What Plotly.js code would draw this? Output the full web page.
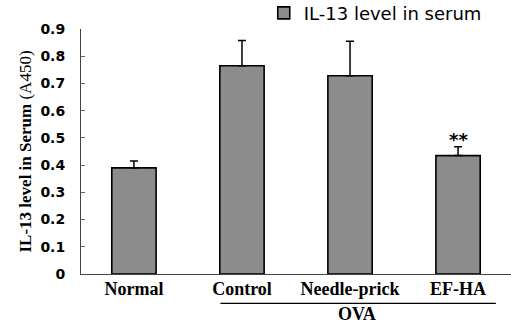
<!DOCTYPE html>
<html>
<head>
<meta charset="utf-8">
<script src="https://cdn.plot.ly/plotly-3.0.1.min.js"></script>
<style>html,body{margin:0;padding:0;background:#fff;}#chart{width:511px;height:327px;}</style>
</head>
<body>
<div id="chart"></div>
<script>
const categories = ["Normal", "Control", "Needle-prick", "EF-HA"];
const il13Values = [0.39, 0.765, 0.728, 0.435];
const il13Errors = [0.025, 0.093, 0.127, 0.032];
const seriesName = "IL-13 level in serum";
const groupLabel = "OVA";
const sigMark = "**";
const sigIndex = 3;

const trace = {
  type: "bar",
  x: categories,
  y: il13Values,
  name: seriesName,
  width: 0.41,
  marker: {
    color: "#8c8c8c",
    line: {color: "#000", width: 1.6}
  },
  error_y: {
    type: "data", symmetric: false,
    array: il13Errors,
    arrayminus: il13Errors.map(() => 0),
    color: "#000", thickness: 1.5, width: 4
  },
  showlegend: true
};

const layout = {
  width: 511, height: 327,
  margin: {l: 81, r: 0, t: 29, b: 53, autoexpand: false},
  paper_bgcolor: "#fff", plot_bgcolor: "#fff",
  showlegend: true,
  legend: {
    xref: "paper", yref: "paper",
    x: 0.425, y: 1.14, xanchor: "left", yanchor: "top",
    font: {family: "DejaVu Sans", size: 18, color: "#000"},
    bgcolor: "rgba(0,0,0,0)", borderwidth: 0,
    itemwidth: 30
  },
  xaxis: {
    type: "category",
    range: [-0.49, 3.49],
    showline: true, linecolor: "#444", linewidth: 1,
    ticks: "", showgrid: false, zeroline: false,
    tickangle: 0,
    tickfont: {family: "Liberation Serif", size: 18, color: "#000", weight: "bold"},
    ticklabelstandoff: -2,
    automargin: false,
    fixedrange: true
  },
  yaxis: {
    range: [0, 0.9],
    dtick: 0.1,
    showline: true, linecolor: "#444", linewidth: 1,
    ticks: "inside", ticklen: 4, tickcolor: "#666",
    showgrid: false, zeroline: false,
    tickfont: {family: "DejaVu Sans", size: 14, color: "#000", weight: "bold"},
    ticklabelstandoff: 12,
    title: {
      text: "<b>IL-13 level in Serum</b> (A450)",
      font: {family: "Liberation Serif", size: 17, color: "#000"},
      standoff: 4
    },
    automargin: false
  },
  shapes: [
    {type: "line", xref: "x", yref: "paper", x0: 0.8, x1: 3.35, y0: -0.12, y1: -0.12,
     line: {color: "#000", width: 1.2}}
  ],
  annotations: [
    {xref: "x", yref: "paper", x: 2.06, y: -0.165, text: "<b>" + groupLabel + "</b>",
     showarrow: false, yanchor: "middle", xanchor: "center",
     font: {family: "Liberation Serif", size: 18, color: "#000"}},
    {xref: "x", yref: "y", x: categories[sigIndex], y: 0.447, text: "<b>" + sigMark + "</b>",
     showarrow: false, yanchor: "bottom", xanchor: "center",
     font: {family: "DejaVu Sans", size: 18, color: "#000"}}
  ]
};

Plotly.newPlot("chart", [trace], layout, {displayModeBar: false, staticPlot: true});
</script>
</body>
</html>
